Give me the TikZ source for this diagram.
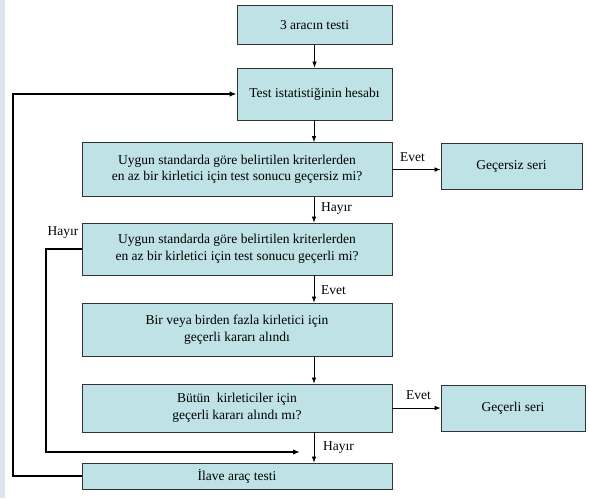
\documentclass[tikz,border=0pt]{standalone}
\usepackage{fontspec}
\setmainfont{Liberation Serif}
\usetikzlibrary{arrows.meta}
\definecolor{boxfill}{RGB}{190,226,229}
\definecolor{strip}{RGB}{221,227,236}
\tikzset{
  box/.style={draw=black!80, line width=0.8pt, fill=boxfill, align=center, inner sep=0pt,
    font=\fontsize{13.5}{16.5}\selectfont},
  lbl/.style={font=\fontsize{13.5}{16}\selectfont, inner sep=0pt},
  conn/.style={line width=0.7pt, -{Latex[length=6pt,width=4.5pt]}},
  thickconn/.style={line width=1.8pt, -{Latex[length=7pt,width=5.5pt]}},
  thickline/.style={line width=1.8pt}
}
\begin{document}
\begin{tikzpicture}[x=1pt,y=-1pt]
\useasboundingbox (0,0) rectangle (589,498);
\fill[strip] (0,0) rectangle (5,498);

\node[box, minimum width=155pt, minimum height=39pt] (b1) at (314.5,25) {3 aracın testi};
\node[box, minimum width=155pt, minimum height=52pt] (b2) at (314.5,94) {Test istatistiğinin hesabı};
\node[box, minimum width=310pt, minimum height=54pt] (b3) at (237,169.5) {Uygun standarda göre belirtilen kriterlerden\\en az bir kirletici için test sonucu geçersiz mi?};
\node[box, minimum width=141pt, minimum height=46pt] (gs) at (511.5,166) {Geçersiz seri};
\node[box, minimum width=310pt, minimum height=52pt] (b4) at (237,249) {Uygun standarda göre belirtilen kriterlerden\\en az bir kirletici için test sonucu geçerli mi?};
\node[box, minimum width=310pt, minimum height=53pt] (b5) at (237,329.5) {Bir veya birden fazla kirletici için\\geçerli kararı alındı};
\node[box, minimum width=310pt, minimum height=48pt] (b6) at (237,408) {Bütün~ kirleticiler için\\geçerli kararı alındı mı?};
\node[box, minimum width=144pt, minimum height=46pt] (gl) at (513,408) {Geçerli seri};
\node[box, minimum width=310pt, minimum height=26pt] (b7) at (237,476) {İlave araç testi};

\coordinate (col) at (314,0);
\draw[conn] (b1) -- (b2);
\draw[conn] (b2.south -| col) -- (b3.north -| col);
\draw[conn] (b3.south -| col) -- (b4.north -| col);
\draw[conn] (b4.south -| col) -- (b5.north -| col);
\draw[conn] (b5.south -| col) -- (b6.north -| col);
\draw[conn] (b6.south -| col) -- (b7.north -| col);
\draw[conn] (b3.east) -- (b3.east -| gs.west);
\draw[conn] (b6.east) -- (b6.east -| gl.west);

\coordinate (hend) at (300,452);
\draw[thickconn] (b4.west) -- ++(-36,0) |- (hend);
\draw[thickconn] (b7.west) -- ++(-69,0) |- (b2.west);

\node[lbl, anchor=west] (l1) at (321,209) {Hayır};
\node[lbl, anchor=west] (l2) at (321,290) {Evet};
\node[lbl, anchor=west] (l3) at (323,448) {Hayır};
\node[lbl, anchor=west] (l4) at (400,157) {Evet};
\node[lbl, anchor=west] (l5) at (406,395) {Evet};
\node[lbl] (l6) at (63,233) {Hayır};
\end{tikzpicture}
\end{document}
